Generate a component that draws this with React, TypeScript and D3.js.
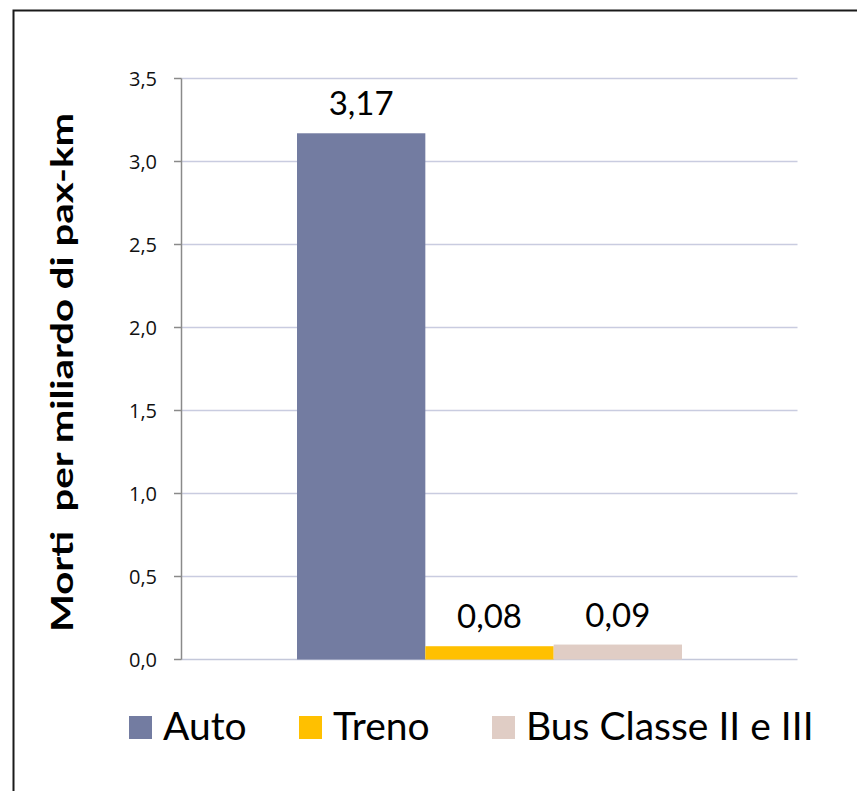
import React from "react";
import * as d3 from "d3";

const categories = ["Auto", "Treno", "Bus Classe II e III"];
const values = [3.17, 0.08, 0.09];
const valueLabels = ["3,17", "0,08", "0,09"];
const colors = ["#737ca1", "#ffc000", "#e0cdc5"];
const yTicks = [0, 0.5, 1.0, 1.5, 2.0, 2.5, 3.0, 3.5];
const yTitle = "Morti  per miliardo di pax-km";

const W = 857;
const H = 791;
const plot = { left: 181.5, right: 797.5, top: 78.5, bottom: 659.5 };
const legendX = [129, 299, 492];

export default function App() {
  const y = d3.scaleLinear().domain([0, 3.5]).range([plot.bottom, plot.top]);
  const group = d3.scaleBand<string>().domain(["g"]).range([plot.left, plot.right]).paddingInner(0).paddingOuter(0.3);
  const x = d3.scaleBand<string>().domain(categories).range([group("g")!, group("g")! + group.bandwidth()]).padding(0);
  const fmt = (v: number) => d3.format(".1f")(v).replace(".", ",");
  const font = "Lato, 'Open Sans', sans-serif";

  return (
    <svg width={W} height={H} style={{ position: "absolute", left: 0, top: 0, background: "#fff" }}>
      <rect x={13.5} y={10.5} width={900} height={900} fill="#fff" stroke="#1a1a1a" strokeWidth={2} />
      {yTicks.map((t) => (
        <g key={t}>
          <line x1={plot.left} x2={plot.right} y1={y(t)} y2={y(t)} stroke={t === 0 ? "#c4c8da" : "#c9cce0"} strokeWidth={1.5} />
          <line x1={174} x2={plot.left} y1={y(t)} y2={y(t)} stroke="#8a8a8a" strokeWidth={1.5} />
          <text x={157} y={y(t)} dy="0.35em" textAnchor="end" fontFamily="'Open Sans', sans-serif" fontSize={20} fill="#111">
            {fmt(t)}
          </text>
        </g>
      ))}
      <line x1={plot.left} x2={plot.left} y1={plot.top} y2={plot.bottom} stroke="#8a8a8a" strokeWidth={1.5} />
      {categories.map((c, i) => (
        <g key={c}>
          <rect x={x(c)} y={y(values[i])} width={x.bandwidth()} height={y(0) - y(values[i])} fill={colors[i]} />
          <text x={x(c)! + x.bandwidth() / 2} y={y(values[i]) - 18} textAnchor="middle" fontFamily={font} fontSize={33} fill="#000">
            {valueLabels[i]}
          </text>
        </g>
      ))}
      <text
        transform={`translate(73, ${(113 + 632) / 2}) rotate(-90)`}
        textAnchor="middle"
        fontFamily={font}
        fontWeight="bold"
        fontSize={31}
        textLength={519}
        lengthAdjust="spacingAndGlyphs"
        fill="#000"
        style={{ whiteSpace: "pre" }}
      >
        {yTitle}
      </text>
      {categories.map((c, i) => (
        <g key={"lg" + c}>
          <rect x={legendX[i]} y={716} width={23} height={23} fill={colors[i]} />
          <text x={legendX[i] + 34} y={740} fontFamily={font} fontSize={39} fill="#000">
            {c}
          </text>
        </g>
      ))}
    </svg>
  );
}
